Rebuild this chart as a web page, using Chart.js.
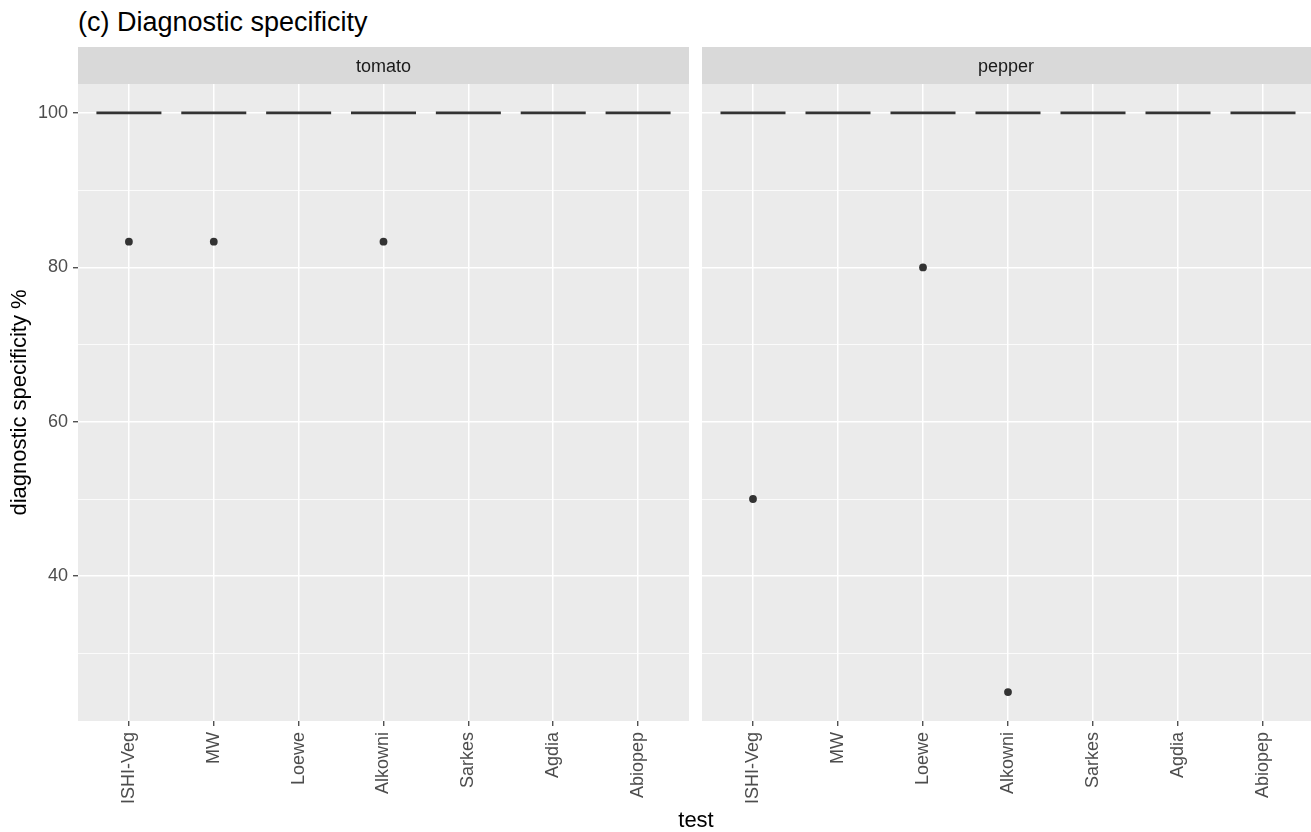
<!DOCTYPE html>
<html>
<head>
<meta charset="utf-8">
<script src="https://cdn.jsdelivr.net/npm/chart.js@4.4.1/dist/chart.umd.min.js"></script>
<style>
  html, body { margin: 0; padding: 0; background: #ffffff; overflow: hidden; }
  body { width: 1311px; height: 832px; position: relative; font-family: "Liberation Sans", Arial, sans-serif; }
  #title { position: absolute; left: 78px; top: 6px; font-size: 27px; line-height: 32px; color: #000; white-space: nowrap; }
  #xtitle { position: absolute; left: 596px; width: 200px; top: 807px; text-align: center; font-size: 22px; line-height: 26px; color: #000; }
  .panel { position: absolute; top: 0; }
  #left { left: 0; }
  #right { left: 695px; }
</style>
</head>
<body>
<div id="title">(c) Diagnostic specificity</div>
<div class="panel" id="left"><canvas id="tomato" width="695" height="832"></canvas></div>
<div class="panel" id="right"><canvas id="pepper" width="619" height="832"></canvas></div>
<div id="xtitle">test</div>
<script>
// categories on the x axis
const tests = ["ISHI-Veg", "MW", "Loewe", "Alkowni", "Sarkes", "Agdia", "Abiopep"];

// box medians (every box collapsed onto 100)
const tomatoMedian = [100, 100, 100, 100, 100, 100, 100];
const pepperMedian = [100, 100, 100, 100, 100, 100, 100];

// outlying points
const tomatoOutliers = [83.33, 83.33, null, 83.33, null, null, null];
const pepperOutliers = [50, null, 80, 25, null, null, null];

// y axis
const yMin = 21.25;
const yMax = 103.75;
const yTicks = [30, 40, 50, 60, 70, 80, 90, 100];
const yLabelled = [40, 60, 80, 100];

const ink = "#333333";
const fontFamily = '"Liberation Sans", Arial, sans-serif';

const toPoints = (vals) =>
  vals.map((v, i) => ({ x: i + 1, y: v })).filter((p) => p.y !== null);

// grey panel + facet strip
const panelBg = {
  id: "panelBg",
  beforeDraw(chart, args, opts) {
    const { ctx, chartArea } = chart;
    ctx.save();
    ctx.fillStyle = "#EBEBEB";
    ctx.fillRect(chartArea.left, chartArea.top, chartArea.right - chartArea.left, chartArea.bottom - chartArea.top);
    ctx.fillStyle = "#D9D9D9";
    ctx.fillRect(chartArea.left, chartArea.top - 37, chartArea.right - chartArea.left, 37);
    ctx.fillStyle = "#1A1A1A";
    ctx.font = "18px " + fontFamily;
    ctx.textAlign = "center";
    ctx.textBaseline = "middle";
    const mid = opts.centre || (chartArea.left + chartArea.right) / 2;
    ctx.fillText(opts.label, mid, chartArea.top - 17);
    ctx.restore();
  },
};

const makePanel = (canvasId, label, medians, outliers, showY, centre) => {
  return new Chart(document.getElementById(canvasId), {
    type: "scatter",
    plugins: [panelBg],
    data: {
      datasets: [
        {
          data: toPoints(medians),
          pointStyle: "line",
          pointRadius: 32.5,
          borderWidth: 2.8,
          borderColor: ink,
          backgroundColor: ink,
          pointHoverRadius: 32.5,
        },
        {
          data: toPoints(outliers),
          pointStyle: "circle",
          pointRadius: 3.9,
          borderWidth: 0,
          backgroundColor: ink,
          borderColor: ink,
        },
      ],
    },
    options: {
      responsive: false,
      animation: false,
      layout: { autoPadding: false, padding: { top: 84, right: showY ? 6 : 0, bottom: 0, left: 0 } },
      plugins: {
        legend: { display: false },
        tooltip: { enabled: false },
        panelBg: { label: label, centre: centre },
      },
      scales: {
        x: {
          type: "linear",
          min: 0.4,
          max: 7.6,
          afterBuildTicks: (scale) => {
            scale.ticks = tests.map((_, i) => ({ value: i + 1 }));
          },
          afterFit: (scale) => {
            scale.height = 111;
            scale.paddingLeft = 0;
            scale.paddingRight = 0;
          },
          border: { display: false },
          grid: {
            color: "#FFFFFF",
            lineWidth: 1.5,
            drawTicks: true,
            tickLength: 5,
            tickColor: ink,
            tickWidth: 1.2,
          },
          ticks: {
            autoSkip: false,
            minRotation: 90,
            maxRotation: 90,
            padding: 6,
            color: "#4D4D4D",
            font: { family: fontFamily, size: 18 },
            callback: (v) => tests[v - 1],
          },
        },
        y: {
          min: yMin,
          max: yMax,
          afterBuildTicks: (scale) => {
            scale.ticks = yTicks.map((v) => ({ value: v }));
          },
          afterFit: (scale) => {
            scale.width = showY ? 78 : 7;
            scale.paddingTop = 0;
            scale.paddingBottom = 0;
          },
          border: { display: false },
          grid: {
            color: "#FFFFFF",
            lineWidth: (c) => (yLabelled.includes(c.tick.value) ? 1.5 : 0.8),
            drawTicks: showY,
            tickLength: 5,
            tickColor: (c) => (yLabelled.includes(c.tick.value) ? ink : "rgba(0,0,0,0)"),
            tickWidth: 1.2,
          },
          title: {
            display: showY,
            text: "diagnostic specificity %",
            color: "#000000",
            font: { family: fontFamily, size: 22 },
            padding: { top: 7, bottom: 0 },
          },
          ticks: {
            display: showY,
            padding: 5,
            color: "#4D4D4D",
            font: { family: fontFamily, size: 18 },
            callback: (v) => (yLabelled.includes(v) ? String(v) : ""),
          },
        },
      },
    },
  });
};

makePanel("tomato", "tomato", tomatoMedian, tomatoOutliers, true);
// pepper panel runs slightly past the window edge; centre its strip label like the reference
makePanel("pepper", "pepper", pepperMedian, pepperOutliers, false, 1006 - 695);
</script>
</body>
</html>
